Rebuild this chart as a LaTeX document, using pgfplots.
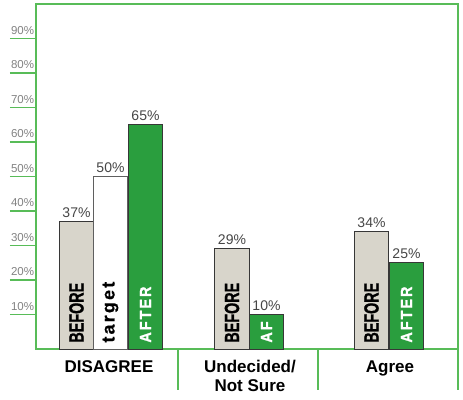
\documentclass[border=0pt]{standalone}
\usepackage{pgfplots}
\pgfplotsset{compat=1.18}
\usepackage{fontspec}
\setmainfont{Liberation Sans}
\newfontfamily\heavyfont[BoldFeatures={FakeBold=1.2}]{Liberation Sans}
\newfontfamily\spacedfont[LetterSpace=14,BoldFeatures={FakeBold=1}]{Liberation Sans}
\newfontfamily\spacedfontT[LetterSpace=12,BoldFeatures={FakeBold=0.6}]{Liberation Sans}
\definecolor{axgreen}{RGB}{88,188,88}
\definecolor{bargreen}{RGB}{42,158,62}
\definecolor{beforegray}{RGB}{216,213,203}
\definecolor{edge}{RGB}{55,55,55}
\definecolor{ticktext}{RGB}{130,130,130}
\definecolor{valtext}{RGB}{70,70,70}
\newcommand\beforelab{\scalebox{0.7}[1]{\fontsize{20.5}{21}\selectfont\heavyfont\bfseries BEFORE}}
\newcommand\afterlab[1]{\scalebox{0.9}[1]{\fontsize{16}{17}\selectfont\spacedfont\bfseries #1}}
\begin{document}
\begin{tikzpicture}
\path[use as bounding box] (0,0) rectangle (463pt,399pt);
\begin{axis}[
  at={(36pt,50pt)}, anchor=south west,
  scale only axis, width=422pt, height=345pt,
  xmin=36, xmax=458, ymin=0, ymax=100,
  axis line style={axgreen, line width=1.6pt},
  xtick=\empty,
  ytick={10,20,...,90},
  /pgf/number format/assume math mode=true,
  yticklabel={\pgfmathprintnumber{\tick}\%},
  ytick pos=left,
  tick align=outside,
  major tick length=26pt,
  y tick style={axgreen, line width=1.2pt},
  yticklabel style={anchor=south west, text=ticktext,
    font=\fontsize{11.5}{12}\selectfont, xshift=-2.5pt, yshift=0.5pt},
  clip=false,
  ybar, bar width=34.5,
  nodes near coords={\pgfmathprintnumber\pgfplotspointmeta\%},
  every node near coord/.append style={font=\fontsize{14}{15}\selectfont, text=valtext},
]
% BEFORE
\addplot[bar shift=0pt, fill=beforegray, draw=edge, line width=1pt]
  coordinates {(76.5,37) (232,29) (371.5,34)};
% target
\addplot[bar shift=0pt, fill=white, draw=edge!80, line width=1pt]
  coordinates {(110.5,50)};
% AFTER
\addplot[bar shift=0pt, fill=bargreen, draw=edge, line width=1pt]
  coordinates {(145.5,65) (266.5,10) (406.5,25)};

% labels inside bars
\node[rotate=90, anchor=west, inner sep=0pt] at (axis cs:76.5,1.8) {\beforelab};
\node[rotate=90, anchor=west, inner sep=0pt] at (axis cs:232,1.8) {\beforelab};
\node[rotate=90, anchor=west, inner sep=0pt] at (axis cs:371.5,1.8) {\beforelab};
\node[rotate=90, anchor=west, inner sep=0pt] at (axis cs:110.5,1.8)
  {\fontsize{18}{19}\selectfont\spacedfontT\bfseries target};
\node[rotate=90, anchor=west, inner sep=0pt, text=white] at (axis cs:145.5,1.8) {\afterlab{AFTER}};
\node[rotate=90, anchor=west, inner sep=0pt, text=white] at (axis cs:266.5,1.8) {\afterlab{AF}};
\node[rotate=90, anchor=west, inner sep=0pt, text=white] at (axis cs:406.5,1.8) {\afterlab{AFTER}};

% category separators
\draw[axgreen, line width=1.4pt] (axis cs:178,0) -- (axis cs:178,-11.9);
\draw[axgreen, line width=1.4pt] (axis cs:318,0) -- (axis cs:318,-11.9);
\draw[axgreen, line width=1.6pt] (axis cs:458,0) -- (axis cs:458,-11.9);

% category labels
\node[anchor=base, inner sep=0pt, font=\fontsize{17}{18}\selectfont\bfseries] at (axis cs:109,-6.67) {DISAGREE};
\node[anchor=base, inner sep=0pt, font=\fontsize{17}{18}\selectfont\bfseries] at (axis cs:250,-6.67) {Undecided/};
\node[anchor=base, inner sep=0pt, font=\fontsize{17}{18}\selectfont\bfseries] at (axis cs:250,-12.46) {Not Sure};
\node[anchor=base, inner sep=0pt, font=\fontsize{17}{18}\selectfont\bfseries] at (axis cs:390,-6.67) {Agree};
\end{axis}
\end{tikzpicture}
\end{document}
